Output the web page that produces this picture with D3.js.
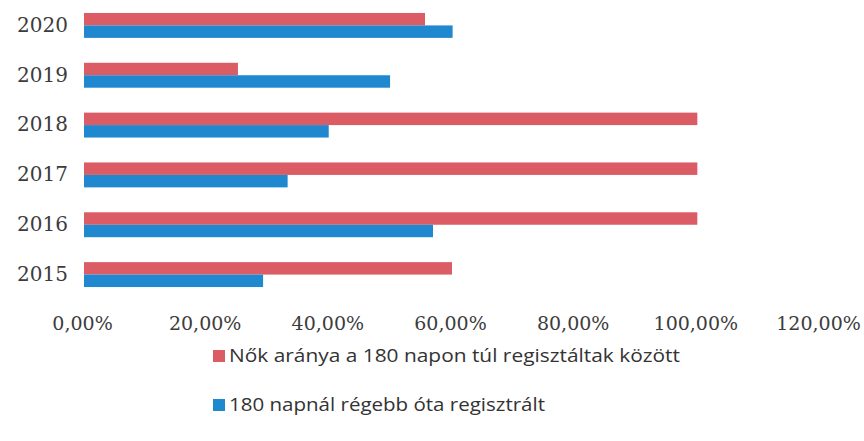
<!DOCTYPE html>
<html>
<head>
<meta charset="utf-8">
<script src="https://cdn.jsdelivr.net/npm/d3@7"></script>
<style>
  body { margin: 0; background: #fff; }
  .tick text { font-family: "DejaVu Serif", serif; font-size: 19px; fill: #3c3c3c; }
  .legend-label { font-family: "Open Sans", sans-serif; font-size: 18px; fill: #333; }
</style>
</head>
<body>
<div id="chart"></div>
<script>
// years, top to bottom as in the picture
var years = ["2020", "2019", "2018", "2017", "2016", "2015"];
// Nők aránya a 180 napon túl regisztáltak között (%)
var womenShare = [55.6, 25.1, 100, 100, 100, 60.0];
// 180 napnál régebb óta regisztrált (%)
var longTerm = [60.1, 49.9, 39.9, 33.2, 56.9, 29.2];
var xTicks = [0, 20, 40, 60, 80, 100, 120];
var seriesNames = ["Nők aránya a 180 napon túl regisztáltak között", "180 napnál régebb óta regisztrált"];
var seriesColors = ["#dc5c66", "#1f88cf"];

var width = 864, height = 441;

var svg = d3.select("#chart").append("svg")
    .attr("width", width)
    .attr("height", height);

var x = d3.scaleLinear()
    .domain([0, 120])
    .range([84, 820]);

var y = d3.scaleBand()
    .domain(years)
    .range([0.5, 299.5])
    .paddingInner(0.5)
    .paddingOuter(0.25);

var sub = d3.scaleBand()
    .domain([0, 1])
    .range([0, y.bandwidth()]);

var rows = years.map(function(yr, i) { return {year: yr, vals: [womenShare[i], longTerm[i]]}; });

var groups = svg.selectAll("g.row")
    .data(rows)
    .enter().append("g")
    .attr("class", "row")
    .attr("transform", function(d) { return "translate(0," + y(d.year) + ")"; });

groups.selectAll("rect")
    .data(function(d) { return d.vals; })
    .enter().append("rect")
    .attr("x", x(0))
    .attr("y", function(d, i) { return sub(i); })
    .attr("width", function(d) { return x(d) - x(0); })
    .attr("height", sub.bandwidth())
    .style("fill", function(d, i) { return seriesColors[i]; });

// year labels
var yAxis = svg.append("g")
    .attr("transform", "translate(68,0)")
    .call(d3.axisLeft(y).tickSize(0).tickPadding(0));
yAxis.select(".domain").remove();
yAxis.selectAll("text").style("font-size", "20px");

// percent labels
var xAxis = svg.append("g")
    .attr("transform", "translate(-2,316)")
    .call(d3.axisBottom(x).tickValues(xTicks).tickSize(0).tickPadding(0)
        .tickFormat(function(d) { return d3.format(".2f")(d).replace(".", ",") + "%"; }));
xAxis.select(".domain").remove();
xAxis.selectAll("text").attr("dy", "0.71em");

// legend
var legend = svg.selectAll("g.legend")
    .data(seriesNames)
    .enter().append("g")
    .attr("class", "legend")
    .attr("transform", function(d, i) { return "translate(213," + (356 + i * 49) + ")"; });

legend.append("rect")
    .attr("x", 0)
    .attr("y", -6)
    .attr("width", 12)
    .attr("height", 12)
    .style("fill", function(d, i) { return seriesColors[i]; });

legend.append("text")
    .attr("class", "legend-label")
    .attr("x", 16)
    .attr("dy", "0.35em")
    .attr("textLength", function(d, i) { return i == 0 ? 451 : 316; })
    .attr("lengthAdjust", "spacingAndGlyphs")
    .text(function(d) { return d; });
</script>
</body>
</html>
